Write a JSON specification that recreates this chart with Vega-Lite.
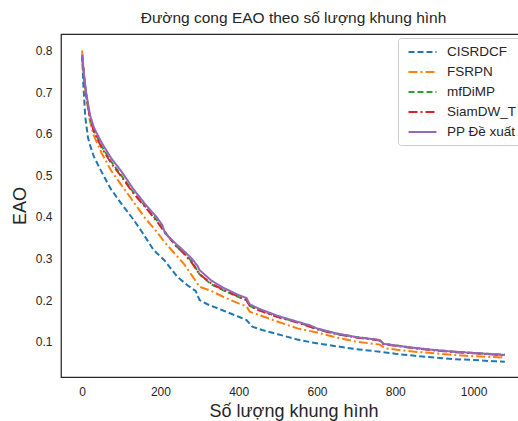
{
  "$schema": "https://vega.github.io/schema/vega-lite/v6.json",
  "autosize": "none",
  "width": 465,
  "height": 343,
  "padding": {"left": 61, "top": 34, "right": 0, "bottom": 44},
  "background": "white",
  "config": {
    "font": "Liberation Sans",
    "view": {"stroke": "#262626", "strokeWidth": 1.25},
    "axis": {"grid": false, "ticks": false, "domain": false, "labelFont": "Liberation Sans", "labelFontSize": 12, "labelColor": "#262626", "titleFont": "Liberation Sans", "titleFontWeight": "normal", "titleColor": "#262626", "titleFontSize": 18}
  },
  "title": {"text": "Đường cong EAO theo số lượng khung hình", "font": "Liberation Sans", "fontSize": 15.5, "fontWeight": "normal", "color": "#262626", "offset": 8, "anchor": "middle"},
  "datasets": {
    "curves": [
      {"s": "CISRDCF", "x": 0, "y": 0.79}, {"s": "CISRDCF", "x": 3, "y": 0.72}, {"s": "CISRDCF", "x": 8, "y": 0.64}, {"s": "CISRDCF", "x": 15, "y": 0.59}, {"s": "CISRDCF", "x": 21, "y": 0.57}, {"s": "CISRDCF", "x": 30, "y": 0.545}, {"s": "CISRDCF", "x": 47, "y": 0.513}, {"s": "CISRDCF", "x": 72, "y": 0.469}, {"s": "CISRDCF", "x": 100, "y": 0.432}, {"s": "CISRDCF", "x": 130, "y": 0.395}, {"s": "CISRDCF", "x": 150, "y": 0.368}, {"s": "CISRDCF", "x": 183, "y": 0.32}, {"s": "CISRDCF", "x": 210, "y": 0.296}, {"s": "CISRDCF", "x": 243, "y": 0.256}, {"s": "CISRDCF", "x": 270, "y": 0.235}, {"s": "CISRDCF", "x": 290, "y": 0.222}, {"s": "CISRDCF", "x": 300, "y": 0.2}, {"s": "CISRDCF", "x": 320, "y": 0.19}, {"s": "CISRDCF", "x": 360, "y": 0.175}, {"s": "CISRDCF", "x": 400, "y": 0.16}, {"s": "CISRDCF", "x": 420, "y": 0.152}, {"s": "CISRDCF", "x": 435, "y": 0.136}, {"s": "CISRDCF", "x": 460, "y": 0.128}, {"s": "CISRDCF", "x": 500, "y": 0.118}, {"s": "CISRDCF", "x": 550, "y": 0.105}, {"s": "CISRDCF", "x": 600, "y": 0.096}, {"s": "CISRDCF", "x": 650, "y": 0.089}, {"s": "CISRDCF", "x": 700, "y": 0.082}, {"s": "CISRDCF", "x": 760, "y": 0.076}, {"s": "CISRDCF", "x": 800, "y": 0.071}, {"s": "CISRDCF", "x": 850, "y": 0.066}, {"s": "CISRDCF", "x": 900, "y": 0.062}, {"s": "CISRDCF", "x": 950, "y": 0.058}, {"s": "CISRDCF", "x": 1000, "y": 0.056}, {"s": "CISRDCF", "x": 1050, "y": 0.053}, {"s": "CISRDCF", "x": 1080, "y": 0.052},

      {"s": "FSRPN", "x": 0, "y": 0.80}, {"s": "FSRPN", "x": 5, "y": 0.74}, {"s": "FSRPN", "x": 10, "y": 0.69}, {"s": "FSRPN", "x": 20, "y": 0.63}, {"s": "FSRPN", "x": 30, "y": 0.595}, {"s": "FSRPN", "x": 50, "y": 0.553}, {"s": "FSRPN", "x": 75, "y": 0.51}, {"s": "FSRPN", "x": 100, "y": 0.477}, {"s": "FSRPN", "x": 130, "y": 0.438}, {"s": "FSRPN", "x": 160, "y": 0.398}, {"s": "FSRPN", "x": 190, "y": 0.365}, {"s": "FSRPN", "x": 210, "y": 0.34}, {"s": "FSRPN", "x": 240, "y": 0.308}, {"s": "FSRPN", "x": 260, "y": 0.287}, {"s": "FSRPN", "x": 280, "y": 0.26}, {"s": "FSRPN", "x": 300, "y": 0.232}, {"s": "FSRPN", "x": 330, "y": 0.222}, {"s": "FSRPN", "x": 360, "y": 0.208}, {"s": "FSRPN", "x": 400, "y": 0.192}, {"s": "FSRPN", "x": 420, "y": 0.185}, {"s": "FSRPN", "x": 428, "y": 0.172}, {"s": "FSRPN", "x": 450, "y": 0.165}, {"s": "FSRPN", "x": 500, "y": 0.148}, {"s": "FSRPN", "x": 550, "y": 0.132}, {"s": "FSRPN", "x": 600, "y": 0.122}, {"s": "FSRPN", "x": 650, "y": 0.11}, {"s": "FSRPN", "x": 700, "y": 0.1}, {"s": "FSRPN", "x": 760, "y": 0.093}, {"s": "FSRPN", "x": 775, "y": 0.084}, {"s": "FSRPN", "x": 800, "y": 0.081}, {"s": "FSRPN", "x": 850, "y": 0.076}, {"s": "FSRPN", "x": 900, "y": 0.072}, {"s": "FSRPN", "x": 950, "y": 0.068}, {"s": "FSRPN", "x": 1000, "y": 0.065}, {"s": "FSRPN", "x": 1050, "y": 0.063}, {"s": "FSRPN", "x": 1080, "y": 0.062},

      {"s": "mfDiMP", "x": 0, "y": 0.785}, {"s": "mfDiMP", "x": 5, "y": 0.737}, {"s": "mfDiMP", "x": 10, "y": 0.697}, {"s": "mfDiMP", "x": 20, "y": 0.64}, {"s": "mfDiMP", "x": 30, "y": 0.608}, {"s": "mfDiMP", "x": 50, "y": 0.569}, {"s": "mfDiMP", "x": 75, "y": 0.532}, {"s": "mfDiMP", "x": 100, "y": 0.5}, {"s": "mfDiMP", "x": 130, "y": 0.46}, {"s": "mfDiMP", "x": 160, "y": 0.427}, {"s": "mfDiMP", "x": 190, "y": 0.393}, {"s": "mfDiMP", "x": 210, "y": 0.366}, {"s": "mfDiMP", "x": 240, "y": 0.33}, {"s": "mfDiMP", "x": 260, "y": 0.313}, {"s": "mfDiMP", "x": 280, "y": 0.293}, {"s": "mfDiMP", "x": 300, "y": 0.262}, {"s": "mfDiMP", "x": 330, "y": 0.238}, {"s": "mfDiMP", "x": 360, "y": 0.224}, {"s": "mfDiMP", "x": 400, "y": 0.207}, {"s": "mfDiMP", "x": 420, "y": 0.2}, {"s": "mfDiMP", "x": 428, "y": 0.186}, {"s": "mfDiMP", "x": 450, "y": 0.177}, {"s": "mfDiMP", "x": 500, "y": 0.16}, {"s": "mfDiMP", "x": 550, "y": 0.147}, {"s": "mfDiMP", "x": 600, "y": 0.131}, {"s": "mfDiMP", "x": 650, "y": 0.119}, {"s": "mfDiMP", "x": 700, "y": 0.111}, {"s": "mfDiMP", "x": 760, "y": 0.104}, {"s": "mfDiMP", "x": 770, "y": 0.095}, {"s": "mfDiMP", "x": 800, "y": 0.091}, {"s": "mfDiMP", "x": 850, "y": 0.085}, {"s": "mfDiMP", "x": 900, "y": 0.08}, {"s": "mfDiMP", "x": 950, "y": 0.076}, {"s": "mfDiMP", "x": 1000, "y": 0.073}, {"s": "mfDiMP", "x": 1050, "y": 0.07}, {"s": "mfDiMP", "x": 1080, "y": 0.069},

      {"s": "SiamDW_T", "x": 0, "y": 0.785}, {"s": "SiamDW_T", "x": 5, "y": 0.735}, {"s": "SiamDW_T", "x": 10, "y": 0.695}, {"s": "SiamDW_T", "x": 20, "y": 0.638}, {"s": "SiamDW_T", "x": 30, "y": 0.605}, {"s": "SiamDW_T", "x": 50, "y": 0.566}, {"s": "SiamDW_T", "x": 75, "y": 0.528}, {"s": "SiamDW_T", "x": 100, "y": 0.497}, {"s": "SiamDW_T", "x": 130, "y": 0.458}, {"s": "SiamDW_T", "x": 160, "y": 0.425}, {"s": "SiamDW_T", "x": 190, "y": 0.39}, {"s": "SiamDW_T", "x": 210, "y": 0.365}, {"s": "SiamDW_T", "x": 240, "y": 0.33}, {"s": "SiamDW_T", "x": 260, "y": 0.312}, {"s": "SiamDW_T", "x": 280, "y": 0.29}, {"s": "SiamDW_T", "x": 300, "y": 0.262}, {"s": "SiamDW_T", "x": 330, "y": 0.24}, {"s": "SiamDW_T", "x": 360, "y": 0.225}, {"s": "SiamDW_T", "x": 400, "y": 0.208}, {"s": "SiamDW_T", "x": 420, "y": 0.2}, {"s": "SiamDW_T", "x": 428, "y": 0.186}, {"s": "SiamDW_T", "x": 450, "y": 0.176}, {"s": "SiamDW_T", "x": 500, "y": 0.159}, {"s": "SiamDW_T", "x": 550, "y": 0.146}, {"s": "SiamDW_T", "x": 600, "y": 0.13}, {"s": "SiamDW_T", "x": 650, "y": 0.118}, {"s": "SiamDW_T", "x": 700, "y": 0.11}, {"s": "SiamDW_T", "x": 760, "y": 0.103}, {"s": "SiamDW_T", "x": 770, "y": 0.094}, {"s": "SiamDW_T", "x": 800, "y": 0.09}, {"s": "SiamDW_T", "x": 850, "y": 0.084}, {"s": "SiamDW_T", "x": 900, "y": 0.079}, {"s": "SiamDW_T", "x": 950, "y": 0.075}, {"s": "SiamDW_T", "x": 1000, "y": 0.072}, {"s": "SiamDW_T", "x": 1050, "y": 0.069}, {"s": "SiamDW_T", "x": 1080, "y": 0.067},

      {"s": "PP Đề xuất", "x": 0, "y": 0.79}, {"s": "PP Đề xuất", "x": 5, "y": 0.74}, {"s": "PP Đề xuất", "x": 10, "y": 0.70}, {"s": "PP Đề xuất", "x": 20, "y": 0.645}, {"s": "PP Đề xuất", "x": 30, "y": 0.615}, {"s": "PP Đề xuất", "x": 50, "y": 0.578}, {"s": "PP Đề xuất", "x": 75, "y": 0.54}, {"s": "PP Đề xuất", "x": 100, "y": 0.51}, {"s": "PP Đề xuất", "x": 130, "y": 0.468}, {"s": "PP Đề xuất", "x": 160, "y": 0.432}, {"s": "PP Đề xuất", "x": 190, "y": 0.4}, {"s": "PP Đề xuất", "x": 205, "y": 0.38}, {"s": "PP Đề xuất", "x": 212, "y": 0.36}, {"s": "PP Đề xuất", "x": 240, "y": 0.335}, {"s": "PP Đề xuất", "x": 260, "y": 0.318}, {"s": "PP Đề xuất", "x": 280, "y": 0.3}, {"s": "PP Đề xuất", "x": 295, "y": 0.282}, {"s": "PP Đề xuất", "x": 300, "y": 0.272}, {"s": "PP Đề xuất", "x": 330, "y": 0.247}, {"s": "PP Đề xuất", "x": 360, "y": 0.23}, {"s": "PP Đề xuất", "x": 400, "y": 0.212}, {"s": "PP Đề xuất", "x": 420, "y": 0.205}, {"s": "PP Đề xuất", "x": 428, "y": 0.19}, {"s": "PP Đề xuất", "x": 450, "y": 0.18}, {"s": "PP Đề xuất", "x": 500, "y": 0.162}, {"s": "PP Đề xuất", "x": 550, "y": 0.148}, {"s": "PP Đề xuất", "x": 580, "y": 0.14}, {"s": "PP Đề xuất", "x": 600, "y": 0.132}, {"s": "PP Đề xuất", "x": 650, "y": 0.12}, {"s": "PP Đề xuất", "x": 700, "y": 0.111}, {"s": "PP Đề xuất", "x": 760, "y": 0.104}, {"s": "PP Đề xuất", "x": 770, "y": 0.095}, {"s": "PP Đề xuất", "x": 800, "y": 0.091}, {"s": "PP Đề xuất", "x": 850, "y": 0.085}, {"s": "PP Đề xuất", "x": 900, "y": 0.08}, {"s": "PP Đề xuất", "x": 950, "y": 0.076}, {"s": "PP Đề xuất", "x": 1000, "y": 0.073}, {"s": "PP Đề xuất", "x": 1050, "y": 0.07}, {"s": "PP Đề xuất", "x": 1080, "y": 0.068}
    ]
  },
  "data": {"name": "curves"},
  "mark": {"type": "line", "strokeWidth": 2, "clip": true},
  "encoding": {
    "x": {"field": "x", "type": "quantitative", "scale": {"domain": [-54, 1134], "nice": false, "zero": false}, "axis": {"values": [0, 200, 400, 600, 800, 1000], "format": "d", "title": "Số lượng khung hình", "labelPadding": 9, "titlePadding": 5}},
    "y": {"field": "y", "type": "quantitative", "scale": {"domain": [0.0151, 0.8397], "nice": false, "zero": false}, "axis": {"values": [0.1, 0.2, 0.3, 0.4, 0.5, 0.6, 0.7, 0.8], "format": ".1f", "title": "EAO", "labelPadding": 9, "titlePadding": 6}},
    "color": {"field": "s", "type": "nominal", "scale": {"domain": ["CISRDCF", "FSRPN", "mfDiMP", "SiamDW_T", "PP Đề xuất"], "range": ["#1f77b4", "#ff7f0e", "#2ca02c", "#d62728", "#9467bd"]},
      "legend": {"title": null, "orient": "none", "legendX": 337, "legendY": 4, "symbolType": "M-0.5,0L3.5,0", "symbolSize": 196, "symbolStrokeWidth": 2, "labelFontSize": 13.5, "labelFont": "Liberation Sans", "labelColor": "#262626", "fillColor": "white", "strokeColor": "#cccccc", "cornerRadius": 3, "padding": 6, "rowPadding": 5, "labelOffset": 27}},
    "strokeDash": {"field": "s", "type": "nominal", "scale": {"domain": ["CISRDCF", "FSRPN", "mfDiMP", "SiamDW_T", "PP Đề xuất"], "range": [[6, 3], [9, 3, 2, 3], [6, 3], [9, 3, 2, 3], [1, 0]]}, "legend": null}
  }
}
